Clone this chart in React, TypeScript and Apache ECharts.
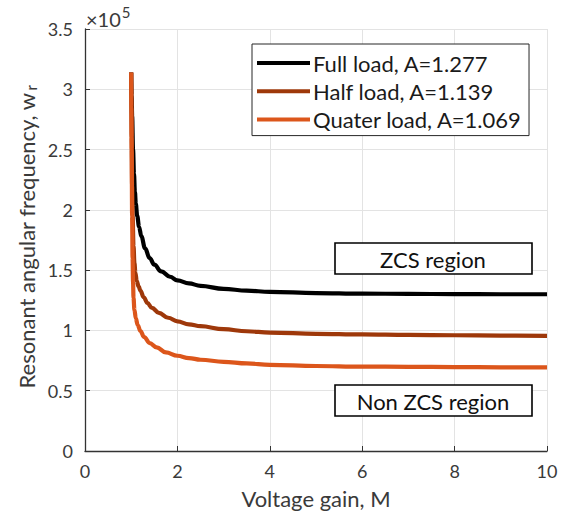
import React, { useEffect, useRef } from "react";
import * as echarts from "echarts";

// Values, in units of 1e5 rad/s
const SCALE = 1e5;

const fullLoadM = [1, 1.01, 1.02, 1.04, 1.06, 1.08, 1.1, 1.13, 1.17, 1.22, 1.3, 1.4, 1.5, 1.65, 1.84, 2, 2.25, 2.5, 3, 3.5, 4, 5, 6, 7, 8, 9, 10];
const fullLoadW = [3.14, 2.95, 2.78, 2.5, 2.3, 2.15, 2.05, 1.95, 1.86, 1.78, 1.68, 1.6, 1.545, 1.49, 1.445, 1.415, 1.39, 1.37, 1.345, 1.33, 1.32, 1.31, 1.305, 1.303, 1.301, 1.3, 1.3];

const halfLoadM = [1, 1.01, 1.02, 1.03, 1.05, 1.07, 1.09, 1.12, 1.16, 1.2, 1.27, 1.35, 1.45, 1.6, 1.8, 2, 2.25, 2.5, 3, 3.5, 4, 5, 6, 7, 8, 9, 10];
const halfLoadW = [3.14, 2.6, 2.2, 1.95, 1.7, 1.56, 1.48, 1.41, 1.365, 1.33, 1.275, 1.228, 1.187, 1.145, 1.105, 1.075, 1.05, 1.035, 1.01, 0.993, 0.982, 0.972, 0.967, 0.963, 0.96, 0.957, 0.955];

const quarterLoadM = [1, 1.005, 1.01, 1.02, 1.03, 1.04, 1.05, 1.07, 1.1, 1.14, 1.2, 1.28, 1.4, 1.55, 1.75, 2, 2.25, 2.5, 3, 3.5, 4, 5, 6, 7, 8, 9, 10];
const quarterLoadW = [3.14, 2.85, 2.5, 1.95, 1.6, 1.4, 1.27, 1.17, 1.1, 1.045, 0.995, 0.945, 0.895, 0.86, 0.818, 0.79, 0.771, 0.757, 0.74, 0.726, 0.715, 0.705, 0.7, 0.698, 0.696, 0.694, 0.693];

const seriesNames = ["Full load, A=1.277", "Half load, A=1.139", "Quater load, A=1.069"];
const seriesColors = ["#000000", "#9e380a", "#dc561b"];
const xTicks = [0, 2, 4, 6, 8, 10];
const yTicks = [0, 0.5, 1, 1.5, 2, 2.5, 3, 3.5];

const FONT = "Lato, 'Open Sans', sans-serif";
const TXT = "#3a3a3a";
const AX = "#333333";

function pairs(ms: number[], ws: number[]) {
  return ms.map((m, i) => [m, ws[i] * SCALE]);
}

export default function App() {
  const ref = useRef<HTMLDivElement>(null);
  useEffect(() => {
    if (!ref.current) return;
    const chart = echarts.init(ref.current, null, { renderer: "svg" });
    const data = [
      pairs(fullLoadM, fullLoadW),
      pairs(halfLoadM, halfLoadW),
      pairs(quarterLoadM, quarterLoadW),
    ];
    chart.setOption({
      animation: false,
      backgroundColor: "#ffffff",
      textStyle: { fontFamily: FONT },
      grid: { left: 85, right: 22, top: 29, bottom: 62, containLabel: false },
      legend: {
        orient: "vertical",
        left: 252,
        top: 44,
        padding: [7, 7, 4, 5],
        itemGap: 4.3,
        itemWidth: 53,
        itemHeight: 4,
        icon: "rect",
        backgroundColor: "#ffffff",
        borderColor: "#262626",
        borderWidth: 1,
        borderRadius: 0,
        textStyle: { fontSize: 22, color: "#1a1a1a", fontFamily: FONT, padding: [0, 0, 0, -2], lineHeight: 24 },
        data: seriesNames,
      },
      xAxis: {
        type: "value",
        min: xTicks[0],
        max: xTicks[xTicks.length - 1],
        interval: 2,
        name: "Voltage gain, M",
        nameLocation: "middle",
        nameGap: 36,
        nameTextStyle: { fontSize: 22, color: TXT, fontFamily: FONT },
        axisLine: { show: true, lineStyle: { color: AX, width: 1.3 } },
        axisTick: { show: true, inside: true, length: 5, lineStyle: { color: AX } },
        axisLabel: { fontSize: 18, color: TXT, margin: 11, fontFamily: FONT },
        splitLine: { show: true, lineStyle: { color: "#e3e3e3", width: 1 } },
      },
      yAxis: {
        type: "value",
        min: 0,
        max: yTicks[yTicks.length - 1] * SCALE,
        interval: 0.5 * SCALE,
        axisLine: { show: true, lineStyle: { color: AX, width: 1.3 } },
        axisTick: { show: true, inside: true, length: 5, lineStyle: { color: AX } },
        axisLabel: {
          fontSize: 18,
          color: TXT,
          margin: 12,
          fontFamily: FONT,
          formatter: (v: number) => String(Math.round((v / SCALE) * 10) / 10),
        },
        splitLine: { show: true, lineStyle: { color: "#e3e3e3", width: 1 } },
      },
      series: seriesNames.map((name, i) => ({
        name,
        type: "line",
        data: data[i],
        showSymbol: false,
        smooth: 0.4,
        smoothMonotone: "x",
        z: 2 + i,
        lineStyle: { color: seriesColors[i], width: 4.2 },
        itemStyle: { color: seriesColors[i] },
      })),
      graphic: [
        {
          type: "text",
          left: 86,
          top: 4,
          style: {
            text: "{a|×10}{sup|5}",
            fill: TXT,
            fontFamily: FONT,
            rich: {
              a: { fontSize: 20, fill: TXT, fontFamily: FONT, lineHeight: 26, verticalAlign: "bottom" },
              sup: { fontSize: 15, fill: TXT, fontFamily: FONT, lineHeight: 26, padding: [0, 0, 10, 1], verticalAlign: "bottom" },
            },
          },
        },
        {
          type: "text",
          x: 26,
          y: 237,
          rotation: Math.PI / 2,
          style: {
            text: "Resonant angular frequency, w{sub|r}",
            fontSize: 22,
            fill: TXT,
            fontFamily: FONT,
            align: "center",
            verticalAlign: "middle",
            rich: { sub: { fontSize: 15, fill: TXT, fontFamily: FONT, padding: [10, 0, 0, 2] } },
          },
        },
        {
          type: "rect",
          shape: { x: 335, y: 243, width: 197, height: 31 },
          style: { fill: "#ffffff", stroke: "#000000", lineWidth: 1.6 },
          z: 10,
        },
        {
          type: "text",
          x: 433,
          y: 259,
          style: { text: "ZCS region", fontSize: 22, fill: "#111111", fontFamily: FONT, align: "center", verticalAlign: "middle" },
          z: 11,
        },
        {
          type: "rect",
          shape: { x: 335, y: 385, width: 197, height: 31 },
          style: { fill: "#ffffff", stroke: "#000000", lineWidth: 1.6 },
          z: 10,
        },
        {
          type: "text",
          x: 433,
          y: 401,
          style: { text: "Non ZCS region", fontSize: 22, fill: "#111111", fontFamily: FONT, align: "center", verticalAlign: "middle" },
          z: 11,
        },
      ],
    });
    return () => chart.dispose();
  }, []);
  return <div ref={ref} style={{ width: 569, height: 514, position: "absolute", left: 0, top: 0 }} />;
}
